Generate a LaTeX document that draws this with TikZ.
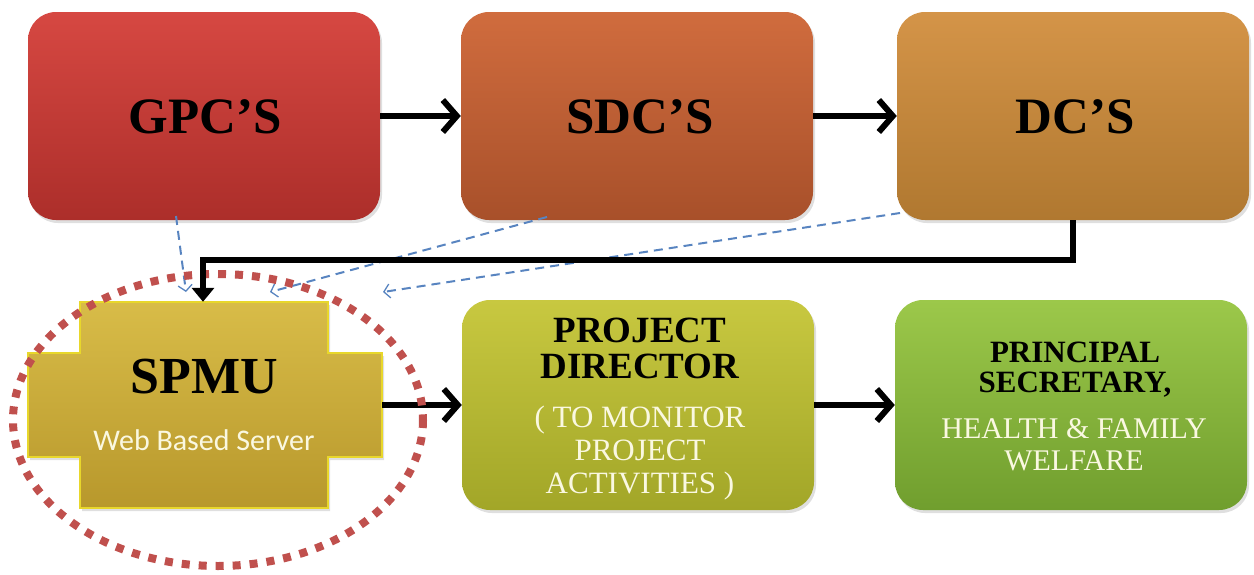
\documentclass[tikz,border=0pt]{standalone}
\usepackage{fontspec}
\setmainfont{Liberation Serif}
\newfontfamily\carlito{Carlito}
\usetikzlibrary{arrows.meta,shadows,calc}
\definecolor{gpcT}{RGB}{214,72,66}
\definecolor{gpcB}{RGB}{172,46,42}
\definecolor{sdcT}{RGB}{208,108,62}
\definecolor{sdcB}{RGB}{168,80,42}
\definecolor{dcT}{RGB}{212,148,72}
\definecolor{dcB}{RGB}{176,120,48}
\definecolor{spT}{RGB}{216,188,72}
\definecolor{spB}{RGB}{184,152,44}
\definecolor{pdT}{RGB}{200,200,64}
\definecolor{pdB}{RGB}{162,166,40}
\definecolor{psT}{RGB}{156,200,74}
\definecolor{psB}{RGB}{112,158,46}
\definecolor{dashblue}{RGB}{88,132,192}
\definecolor{ringred}{RGB}{192,80,77}
\definecolor{cream}{RGB}{250,248,225}
\tikzset{
  box/.style={rounded corners=28pt, minimum width=352pt, minimum height=208pt,
    drop shadow={opacity=0.25, shadow xshift=2pt, shadow yshift=-3pt}},
  title/.style={font=\bfseries\fontsize{51pt}{60pt}\selectfont, text=black},
  flow/.style={line width=6pt, -{Straight Barb[length=14pt,width=32pt,line width=6pt]}},
  feed/.style={draw=dashblue, line width=2pt, dash pattern=on 9pt off 6pt,
    -{Straight Barb[length=6pt,width=14pt,line width=1.3pt]}},
}
\begin{document}
\begin{tikzpicture}[x=1pt,y=-1pt]
\useasboundingbox (0,0) rectangle (1254,574);
% top row
\node[box, top color=gpcT, bottom color=gpcB] (gpc) at (204,116) {};
\node[box, top color=sdcT, bottom color=sdcB] (sdc) at (637,116) {};
\node[box, top color=dcT, bottom color=dcB] (dc) at (1073,116) {};
\node[title, anchor=base] (gpct) at (205,133) {GPC’S};
\node[title, anchor=base] (sdct) at (640,133) {SDC’S};
\node[title, anchor=base] (dct) at (1075,133) {DC’S};
% bottom row
\node[box, minimum height=210pt, top color=pdT, bottom color=pdB] (pd) at (638,405) {};
\node[box, minimum height=210pt, top color=psT, bottom color=psB] (ps) at (1071,405) {};
\node[anchor=base, align=center, font=\bfseries\fontsize{37pt}{36pt}\selectfont] (pdt) at (640,378) {PROJECT\\DIRECTOR};
\node[anchor=base, align=center, text=cream, font=\fontsize{31pt}{33pt}\selectfont] (pds) at (640,493) {( TO MONITOR\\PROJECT\\ACTIVITIES )};
\node[anchor=base, align=center, font=\bfseries\fontsize{31pt}{30pt}\selectfont] (pst) at (1075,392) {PRINCIPAL\\SECRETARY,};
\node[anchor=base, align=center, text=cream, font=\fontsize{30pt}{32pt}\selectfont] (pss) at (1074,470) {HEALTH \& FAMILY\\WELFARE};
% SPMU cross
\node[minimum width=354pt, minimum height=206pt] (spmu) at (205,405) {};
\shade[top color=spT, bottom color=spB, draw=spT!60!yellow, line width=1.5pt,
  drop shadow={opacity=0.25, shadow xshift=2pt, shadow yshift=-3pt}]
  (80,302) -- (328,302) -- (328,353) -- (382,353) -- (382,457) -- (328,457)
  -- (328,508) -- (80,508) -- (80,457) -- (28,457) -- (28,353) -- (80,353) -- cycle;
\node[anchor=base, font=\bfseries\fontsize{52pt}{56pt}\selectfont] (spmut) at (204,393) {SPMU};
\node[anchor=base, text=cream, font=\carlito\fontsize{30pt}{32pt}\selectfont] (spmus) at (204,450) {Web Based Server};
% flows
\draw[flow] (gpc.east) -- (sdc.west);
\draw[flow] (sdc.east) -- (dc.west);
\draw[flow] (spmu.east) -- (pd.west);
\draw[flow] (pd.east) -- (ps.west);
% feedback dashed
\coordinate (g1) at (176,216);
\coordinate (g2) at (186,292);
\coordinate (s1) at (547,217);
\coordinate (s2) at (270,292);
\coordinate (d1) at (900,213);
\coordinate (d2) at (383,292);
\draw[feed] (g1) -- (g2);
\draw[feed] (s1) -- (s2);
\draw[feed] (d1) -- (d2);
% red dotted ring
\draw[ringred, line width=8pt, dash pattern=on 8pt off 9pt] (218,420) ellipse [x radius=205, y radius=146];
% DC to SPMU
\draw[line width=5.5pt, -{Triangle[length=14pt,width=22pt]}] (dc.south) -- ++(0,40) -| ([xshift=-2pt]spmu.north);
\end{tikzpicture}
\end{document}
